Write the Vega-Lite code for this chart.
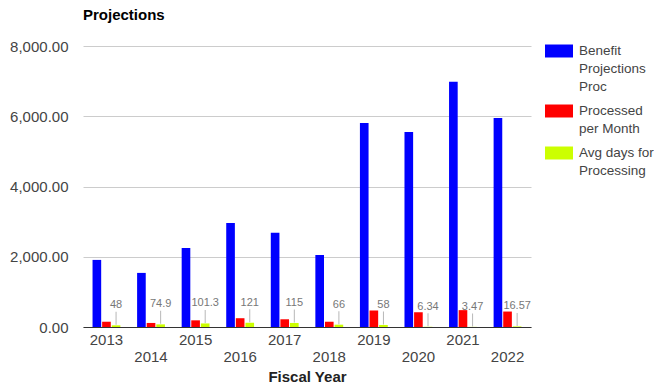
{
  "$schema": "https://vega.github.io/schema/vega-lite/v6.json",
  "autosize": {"type": "none"},
  "padding": {"left": 83, "top": 46, "right": 123, "bottom": 58},
  "width": 448,
  "height": 281,
  "config": {
    "font": "Liberation Sans",
    "view": {"stroke": null},
    "title": {"font": "Liberation Sans"}
  },
  "title": {
    "text": "Projections",
    "anchor": "start",
    "frame": "group",
    "fontSize": 15,
    "fontWeight": "bold",
    "color": "#000000",
    "offset": 14
  },
  "data": {
    "values": [
      {"year": "2013", "series": "Benefit Projections Proc", "value": 1910},
      {"year": "2014", "series": "Benefit Projections Proc", "value": 1540},
      {"year": "2015", "series": "Benefit Projections Proc", "value": 2250},
      {"year": "2016", "series": "Benefit Projections Proc", "value": 2960},
      {"year": "2017", "series": "Benefit Projections Proc", "value": 2680},
      {"year": "2018", "series": "Benefit Projections Proc", "value": 2050},
      {"year": "2019", "series": "Benefit Projections Proc", "value": 5810},
      {"year": "2020", "series": "Benefit Projections Proc", "value": 5555},
      {"year": "2021", "series": "Benefit Projections Proc", "value": 6980},
      {"year": "2022", "series": "Benefit Projections Proc", "value": 5950},
      {"year": "2013", "series": "Processed per Month", "value": 150},
      {"year": "2014", "series": "Processed per Month", "value": 115},
      {"year": "2015", "series": "Processed per Month", "value": 190},
      {"year": "2016", "series": "Processed per Month", "value": 250},
      {"year": "2017", "series": "Processed per Month", "value": 220},
      {"year": "2018", "series": "Processed per Month", "value": 150},
      {"year": "2019", "series": "Processed per Month", "value": 470},
      {"year": "2020", "series": "Processed per Month", "value": 420},
      {"year": "2021", "series": "Processed per Month", "value": 480},
      {"year": "2022", "series": "Processed per Month", "value": 440},
      {"year": "2013", "series": "Avg days for Processing", "value": 48},
      {"year": "2014", "series": "Avg days for Processing", "value": 74.9},
      {"year": "2015", "series": "Avg days for Processing", "value": 101.3},
      {"year": "2016", "series": "Avg days for Processing", "value": 121},
      {"year": "2017", "series": "Avg days for Processing", "value": 115},
      {"year": "2018", "series": "Avg days for Processing", "value": 66},
      {"year": "2019", "series": "Avg days for Processing", "value": 58},
      {"year": "2020", "series": "Avg days for Processing", "value": 6.34},
      {"year": "2021", "series": "Avg days for Processing", "value": 3.47},
      {"year": "2022", "series": "Avg days for Processing", "value": 16.57}
    ]
  },
  "encoding": {
    "x": {
      "field": "year",
      "type": "nominal",
      "scale": {"paddingInner": 0.375, "paddingOuter": 0.214},
      "axis": {
        "title": "Fiscal Year",
        "titleFontSize": 15,
        "titleFontWeight": "bold",
        "titleColor": "#222222",
        "titlePadding": 5,
        "labelAngle": 0,
        "labelFontSize": 15,
        "labelColor": "#444444",
        "labelPadding": {"condition": {"test": "toNumber(datum.value) % 2 == 0", "value": 22}, "value": 5},
        "ticks": false,
        "domainColor": "#333333",
        "grid": false
      }
    },
    "xOffset": {
      "field": "series",
      "type": "nominal",
      "sort": ["Benefit Projections Proc", "Processed per Month", "Avg days for Processing"],
      "scale": {"paddingInner": 0.1}
    },
    "y": {
      "field": "value",
      "type": "quantitative",
      "scale": {"domain": [0, 8000], "nice": false},
      "axis": {
        "title": null,
        "values": [0, 2000, 4000, 6000, 8000],
        "format": ",.2f",
        "labelFontSize": 15,
        "labelColor": "#444444",
        "labelPadding": 15,
        "ticks": false,
        "domain": false,
        "gridColor": "#cccccc"
      }
    }
  },
  "layer": [
    {
      "mark": {"type": "bar"},
      "encoding": {
        "color": {
          "field": "series",
          "type": "nominal",
          "sort": ["Benefit Projections Proc", "Processed per Month", "Avg days for Processing"],
          "scale": {
            "domain": ["Benefit Projections Proc", "Processed per Month", "Avg days for Processing"],
            "range": ["#0000ff", "#ff0000", "#ccff00"]
          },
          "legend": {
            "title": null,
            "orient": "none",
            "legendX": 462,
            "legendY": -9,
            "symbolType": "M-1,-0.464H1V0.464H-1Z",
            "symbolSize": 784,
            "symbolStrokeWidth": 0,
            "labelFontSize": 13.5,
            "labelColor": "#444444",
            "labelOffset": 6,
            "labelLimit": 120,
            "rowPadding": 3,
            "labelExpr": "datum.label == 'Benefit Projections Proc' ? ['Benefit', 'Projections', 'Proc'] : datum.label == 'Processed per Month' ? ['Processed', 'per Month'] : ['Avg days for', 'Processing']",
            "encode": {
              "labels": {
                "update": {
                  "lineHeight": {"value": 18}
                }
              }
            }
          }
        }
      }
    },
    {
      "transform": [{"filter": "datum.series == 'Avg days for Processing'"}],
      "mark": {"type": "tick", "orient": "vertical", "size": 13, "thickness": 1, "yOffset": -7, "color": "#999999"},
      "encoding": {}
    },
    {
      "transform": [{"filter": "datum.series == 'Avg days for Processing'"}],
      "mark": {"type": "text", "dy": -20, "baseline": "middle", "fontSize": 11, "color": "#777777"},
      "encoding": {"text": {"field": "value", "type": "quantitative", "format": ".4~f"}}
    }
  ]
}
